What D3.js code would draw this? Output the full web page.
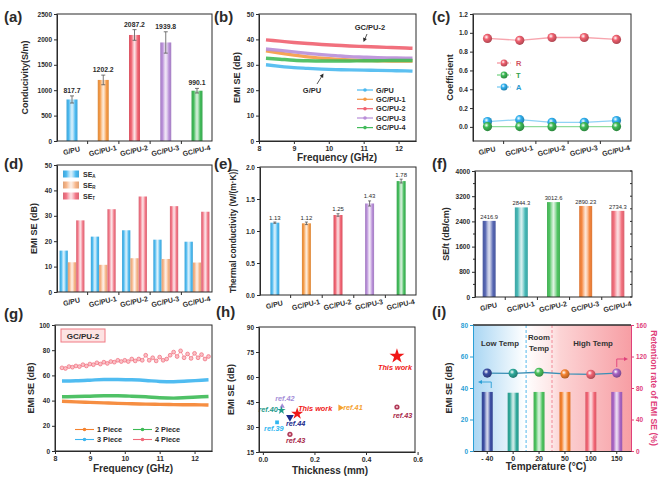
<!DOCTYPE html>
<html><head><meta charset="utf-8">
<script src="https://cdn.jsdelivr.net/npm/d3@7"></script>
<style>body{margin:0;background:#fff;} svg{display:block;}</style>
</head><body>
<svg id="c" width="669" height="484"></svg>
<script>
// ---------------- DATA ----------------
const catsGC = ["G/PU","GC/PU-1","GC/PU-2","GC/PU-3","GC/PU-4"];
// (a)
const conductivity = [817.7,1202.2,2087.2,1939.8,990.1];
const conductivityErr = [70,95,105,210,45];
const condTicks = [0,500,1000,1500,2000,2500];
// (b)
const freqB = [8.2,8.6,9.0,9.4,9.8,10.2,10.6,11.0,11.4,11.8,12.2,12.4];
const seGPU  = [30.0,29.4,28.9,28.6,28.3,28.1,28.0,27.9,27.8,27.7,27.6,27.5];
const seGC1  = [35.5,34.6,33.8,33.1,32.6,32.2,31.9,31.7,31.6,31.5,31.5,31.5];
const seGC2  = [39.8,39.3,38.8,38.4,38.0,37.7,37.4,37.2,37.0,36.8,36.6,36.5];
const seGC3  = [36.2,35.7,35.1,34.5,34.0,33.6,33.2,33.0,32.8,32.7,32.6,32.6];
const seGC4  = [32.6,32.2,31.8,31.6,31.5,31.5,31.5,31.6,31.6,31.7,31.7,31.7];
const freqTicks = [8,9,10,11,12];
const seTicksB = [0,10,20,30,40,50];
// (c)
const coefR = [0.94,0.92,0.95,0.95,0.93];
const coefT = [0.003,0.003,0.002,0.002,0.003];
const coefA = [0.057,0.077,0.048,0.048,0.067];
const coefTicks = [0,0.2,0.4,0.6,0.8,1.0,1.2];
// (d)
const seA = [16.3,21.8,24.3,20.6,19.8];
const seR = [11.7,10.7,13.3,13.0,11.6];
const seT = [28.2,32.6,37.6,33.8,31.6];
// (e)
const thermal = [1.13,1.12,1.25,1.43,1.78];
const thermalErr = [0.01,0.02,0.02,0.04,0.03];
const thermalTicks = [0,0.5,1.0,1.5,2.0];
// (f)
const seThick = [2416.9,2844.3,3012.6,2890.23,2734.3];
const seThickLabels = ["2416.9","2844.3","3012.6","2890.23","2734.3"];
const seThickTicks = [0,800,1600,2400,3200,4000];
// (g)
const freqG = [8.2,8.6,9.0,9.4,9.8,10.2,10.6,11.0,11.4,11.8,12.2,12.4];
const piece1 = [39.5,39.0,38.6,38.2,37.8,37.5,37.2,37.0,36.8,36.7,36.6,36.5];
const piece2 = [43.0,43.2,43.5,43.8,43.8,43.5,43.0,42.3,42.0,42.5,43.0,43.3];
const piece3 = [55.5,55.7,56.2,56.8,56.8,56.5,56.0,55.2,55.0,55.5,56.2,56.5];
const freqG4 = [8.2,8.3,8.4,8.5,8.6,8.7,8.8,8.9,9.0,9.1,9.2,9.3,9.4,9.5,9.6,9.7,9.8,9.9,10.0,10.1,10.2,10.3,10.4,10.5,10.6,10.7,10.8,10.9,11.0,11.1,11.2,11.3,11.4,11.5,11.6,11.7,11.8,11.9,12.0,12.1,12.2,12.3,12.4];
const piece4 = [66,65.5,67,66.5,67.5,67,68.5,67.5,69,68.5,70,69,70.5,69.5,71,70.5,72,71,72,71,73,71.5,73,72,76,72,74,71.5,74.5,72,73,76,78.5,75,79.5,74,77,73.5,77.5,74,76.5,73,75];
const seTicksG = [0,20,40,60,80,100];
// (h)
const refLabels = ["This work","This work","ref.43","ref.41","ref.42","ref.40","ref.44","ref.39","ref.43"];
const refThick  = [0.52,0.133,0.52,0.30,0.075,0.072,0.105,0.055,0.105];
const refSE     = [72.5,38,42,41.6,42.5,40,35.8,32.8,25.6];
const thickTicks = [0,0.2,0.4,0.6];
const seTicksH = [15,30,45,60,75,90];
// (i)
const temps = ["- 40","0","20","50","100","150"];
const tempSE = [37.5,37,37.5,37.5,37.5,37.5];
const retention = [98.9,98.6,100,97.9,97.3,99];
const seTicksI = [0,20,40,60,80];
const retTicks = [0,40,80,120,160];

// ---------------- HELPERS ----------------
const svg = d3.select("#c");
const defs = svg.append("defs");
const FONT = '"Liberation Sans", Arial, Helvetica, sans-serif';
const DARK = "#2b2b2b";
let gid = 0;
function barGrad(color){
  const id = "bg"+(gid++);
  const g = defs.append("linearGradient").attr("id",id).attr("x1","0%").attr("x2","100%").attr("y1","0%").attr("y2","0%");
  const c = d3.color(color);
  const light = d3.interpolateRgb(color,"#ffffff");
  [[0,c.darker(0.3)],[0.2,color],[0.38,light(0.55)],[0.5,light(0.8)],[0.62,light(0.55)],[0.8,color],[1,c.darker(0.3)]]
    .forEach(([o,col])=>g.append("stop").attr("offset",o).attr("stop-color",col));
  return `url(#${id})`;
}
function sphereGrad(color){
  const id = "sg"+(gid++);
  const g = defs.append("radialGradient").attr("id",id).attr("cx","38%").attr("cy","35%").attr("r","65%");
  g.append("stop").attr("offset",0).attr("stop-color","#ffffff");
  g.append("stop").attr("offset",0.4).attr("stop-color",color);
  g.append("stop").attr("offset",1).attr("stop-color",d3.color(color).darker(0.9));
  return `url(#${id})`;
}
function styleAxis(g, color, fs){
  g.selectAll("path.domain").attr("stroke",DARK).attr("stroke-width",1);
  g.selectAll(".tick line").attr("stroke",DARK);
  g.selectAll(".tick text").attr("font-family",FONT).attr("font-size",fs||6.5).attr("font-weight","bold").attr("fill",color||DARK);
}
function leftAxis(y, x, ticks, fmt, color){
  const g = svg.append("g").attr("transform",`translate(${x},0)`)
    .call(d3.axisLeft(y).tickValues(ticks).tickFormat(fmt).tickSize(3).tickSizeOuter(0).tickPadding(2));
  styleAxis(g,color); return g;
}
function rightAxis(y, x, ticks, fmt, color){
  const g = svg.append("g").attr("transform",`translate(${x},0)`)
    .call(d3.axisRight(y).tickValues(ticks).tickFormat(fmt).tickSize(3).tickSizeOuter(0).tickPadding(2));
  styleAxis(g,color); return g;
}
function bottomAxis(x, y, ticks, fmt, fs){
  const g = svg.append("g").attr("transform",`translate(0,${y})`)
    .call(d3.axisBottom(x).tickValues(ticks).tickFormat(fmt).tickSize(3).tickSizeOuter(0).tickPadding(2));
  styleAxis(g,DARK,fs||7); return g;
}
function frame(x0,y0,x1,y1){
  svg.append("rect").attr("x",x0).attr("y",y0).attr("width",x1-x0).attr("height",y1-y0)
    .attr("fill","none").attr("stroke",DARK).attr("stroke-width",1);
}
function catLabels(x, cats, yb, fs){
  const step = x.step();
  cats.forEach((c,i)=>{
    if(i>0) svg.append("line").attr("x1",x(c)-step/2).attr("x2",x(c)-step/2).attr("y1",yb).attr("y2",yb+3).attr("stroke",DARK);
  });
  svg.append("g").selectAll("text").data(cats).enter().append("text")
    .attr("transform",d=>`translate(${x(d)},${yb+12}) rotate(-13)`)
    .attr("text-anchor","middle").attr("font-family",FONT).attr("font-size",fs||7).attr("font-weight","bold")
    .attr("fill",DARK).text(d=>d);
}
function text(t,x,y,opt){
  opt = opt||{};
  const el = svg.append("text").attr("x",x).attr("y",y).attr("font-family",FONT)
    .attr("font-size",opt.fs||9).attr("font-weight",opt.fw||"bold").attr("fill",opt.fill||DARK)
    .attr("text-anchor",opt.anchor||"start");
  if(opt.italic) el.attr("font-style","italic");
  el.text(t); return el;
}
function vTitle(t,x,y,opt){
  opt = opt||{};
  return svg.append("text").attr("transform",`translate(${x},${y}) rotate(${opt.rot||-90})`)
    .attr("text-anchor","middle").attr("font-family",FONT).attr("font-size",opt.fs||9)
    .attr("font-weight","bold").attr("fill",opt.fill||DARK).text(t);
}
function errBar(xc, yTop, yBot, cap){
  const g = svg.append("g").attr("stroke","#555").attr("stroke-width",0.8);
  g.append("line").attr("x1",xc).attr("x2",xc).attr("y1",yTop).attr("y2",yBot);
  g.append("line").attr("x1",xc-cap).attr("x2",xc+cap).attr("y1",yTop).attr("y2",yTop);
  g.append("line").attr("x1",xc-cap).attr("x2",xc+cap).attr("y1",yBot).attr("y2",yBot);
}
function arrowHead(x,y,dir,color){
  svg.append("path").attr("d","M0,0 L-4,-2 L-4,2 Z").attr("fill",color)
    .attr("transform",`translate(${x},${y}) rotate(${dir})`);
}
const colGC = ["#4ab9f0","#f59a45","#f0606f","#b88ed8","#42bb5a"];
const fmt1 = d3.format(".1f");
const fmt0 = d=>String(d);

// panel letters
[["(a)",4,22],["(b)",214,22],["(c)",432,22],["(d)",4,169],["(e)",214,169],["(f)",432,169],["(g)",4,319],["(h)",216,317],["(i)",432,317]]
  .forEach(([t,x,y])=>text(t,x,y,{fs:15}));

// ---------------- (a) ----------------
{
  const L=57,R=212,T=14,B=141;
  const x = d3.scalePoint().domain(catsGC).range([L,R]).padding(0.48);
  const y = d3.scaleLinear().domain([0,2500]).range([B,T]);
  catsGC.forEach((c,i)=>{
    const v = conductivity[i];
    svg.append("rect").attr("x",x(c)-5.5).attr("width",11).attr("y",y(v)).attr("height",B-y(v)).attr("fill",barGrad(colGC[i]));
    errBar(x(c), y(v+conductivityErr[i]), y(v-conductivityErr[i]), 2);
    text(String(v), x(c), y(v+conductivityErr[i])-3, {fs:6.8, anchor:"middle"});
  });
  frame(L,T,R,B);
  leftAxis(y,L,condTicks,fmt0);
  catLabels(x,catsGC,B,7);
  vTitle("Conducivity(S/m)",28,(T+B)/2,{fs:9});
}

// ---------------- (b) ----------------
{
  const L=259,R=416,T=14,B=141;
  const x = d3.scaleLinear().domain([8,12.5]).range([L,R]);
  const y = d3.scaleLinear().domain([0,50]).range([B,T]);
  const series = [["G/PU",seGPU],["GC/PU-1",seGC1],["GC/PU-2",seGC2],["GC/PU-3",seGC3],["GC/PU-4",seGC4]];
  const line = d3.line().x((d,i)=>x(freqB[i])).y(d=>y(d)).curve(d3.curveMonotoneX);
  series.forEach(([n,vals],i)=>{
    svg.append("path").attr("d",line(vals)).attr("fill","none").attr("stroke",colGC[i]).attr("stroke-width",3.4).attr("stroke-opacity",0.9);
  });
  frame(L,T,R,B);
  leftAxis(y,L,seTicksB,fmt0);
  bottomAxis(x,B,freqTicks,fmt0);
  text("GC/PU-2",370,30,{fs:7.5,anchor:"middle"});
  svg.append("line").attr("x1",367).attr("y1",34).attr("x2",364.5).attr("y2",40).attr("stroke",DARK).attr("stroke-width",0.8);
  arrowHead(363.5,42,112,DARK);
  text("G/PU",312,93,{fs:7.5,anchor:"middle"});
  svg.append("line").attr("x1",317).attr("y1",84).attr("x2",322).attr("y2",76).attr("stroke",DARK).attr("stroke-width",0.8);
  arrowHead(323.5,73.5,-58,DARK);
  const ly=[90,99.3,108.7,118,127.6];
  series.forEach(([n],i)=>{
    svg.append("line").attr("x1",357).attr("x2",373).attr("y1",ly[i]).attr("y2",ly[i]).attr("stroke",colGC[i]).attr("stroke-width",1.2);
    svg.append("circle").attr("cx",365).attr("cy",ly[i]).attr("r",1.8).attr("fill",colGC[i]);
    text(n,376,ly[i]+2.6,{fs:7.3});
  });
  vTitle("EMI SE (dB)",240,(T+B)/2,{fs:9});
  text("Frequency (GHz)",337,161,{fs:10,anchor:"middle"});
}

// ---------------- (c) ----------------
{
  const L=473,R=631,T=14,B=141;
  const x = d3.scalePoint().domain(catsGC).range([L,R]).padding(0.45);
  const y = d3.scaleLinear().domain([-0.15,1.2]).range([B,T]);
  const sers = [["R",coefR,"#f0606f","#f7a5ae"],["T",coefT,"#3cba55","#8fdc9b"],["A",coefA,"#2fb0ef","#8fd3f5"]];
  const line = d3.line().x((d,i)=>x(catsGC[i])).y(d=>y(d));
  sers.forEach(([n,vals,c,lc])=>{
    svg.append("path").attr("d",line(vals)).attr("fill","none").attr("stroke",lc).attr("stroke-width",1.3);
  });
  sers.slice().reverse().forEach(([n,vals,c])=>{
    const f = sphereGrad(c);
    vals.forEach((v,i)=>svg.append("circle").attr("cx",x(catsGC[i])).attr("cy",y(v)).attr("r",4.6).attr("fill",f));
  });
  frame(L,T,R,B);
  leftAxis(y,L,coefTicks,fmt1);
  catLabels(x,catsGC,B,7);
  const ly=[63,75,87];
  sers.forEach(([n,vals,c,lc],i)=>{
    svg.append("line").attr("x1",497).attr("x2",511).attr("y1",ly[i]).attr("y2",ly[i]).attr("stroke",lc).attr("stroke-width",1.3).attr("stroke-dasharray","3,1.5");
    svg.append("circle").attr("cx",504).attr("cy",ly[i]).attr("r",3.5).attr("fill",sphereGrad(c));
    text(n,516,ly[i]+2.8,{fs:7.5,fill:d3.color(c).darker(0.4)});
  });
  vTitle("Coefficient",453,(T+B)/2,{fs:9});
}

// ---------------- (d) ----------------
{
  const L=57,R=212,T=165,B=292;
  const x = d3.scalePoint().domain(catsGC).range([L,R]).padding(0.48);
  const y = d3.scaleLinear().domain([0,50]).range([B,T]);
  const sers = [[seA,"#4ab9f0"],[seR,"#f7b486"],[seT,"#f27484"]];
  const bw = 8.3;
  sers.forEach(([vals,c],k)=>{
    const f = barGrad(c);
    vals.forEach((v,i)=>{
      svg.append("rect").attr("x",x(catsGC[i])+(k-1.5)*bw).attr("width",bw).attr("y",y(v)).attr("height",B-y(v)).attr("fill",f);
    });
  });
  frame(L,T,R,B);
  leftAxis(y,L,[0,10,20,30,40,50],fmt0);
  catLabels(x,catsGC,B,7);
  const ly=[174,185,196], subs=["A","R","T"];
  sers.forEach(([v,c],i)=>{
    svg.append("rect").attr("x",63).attr("y",ly[i]-3.5).attr("width",16).attr("height",7).attr("fill",barGrad(c));
    const t = text("SE",83,ly[i]+2.5,{fs:7});
    t.append("tspan").attr("font-size",4.5).attr("dy",1.5).text(subs[i]);
  });
  vTitle("EMI SE (dB)",37,(T+B)/2,{fs:9});
}

// ---------------- (e) ----------------
{
  const L=260,R=416,T=167,B=295;
  const x = d3.scalePoint().domain(catsGC).range([L,R]).padding(0.47);
  const y = d3.scaleLinear().domain([0,2]).range([B,T]);
  catsGC.forEach((c,i)=>{
    const v = thermal[i];
    svg.append("rect").attr("x",x(c)-4.5).attr("width",9).attr("y",y(v)).attr("height",B-y(v)).attr("fill",barGrad(colGC[i]));
    errBar(x(c), y(v+thermalErr[i]), y(v-thermalErr[i]), 1.5);
    text(v.toFixed(2), x(c), y(v+thermalErr[i])-2.5, {fs:6, fw:"normal", anchor:"middle"});
  });
  frame(L,T,R,B);
  leftAxis(y,L,thermalTicks,fmt1);
  catLabels(x,catsGC,B,7);
  vTitle("Thermal conductivity (W/(m·K))",236,(T+B)/2,{fs:8.4});
}

// ---------------- (f) ----------------
{
  const L=475,R=632,T=171,B=297;
  const x = d3.scalePoint().domain(catsGC).range([L,R]).padding(0.44);
  const y = d3.scaleLinear().domain([0,4000]).range([B,T]);
  const colF = ["#5565b2","#45b7b5","#50c462","#f5863e","#f26e7c"];
  catsGC.forEach((c,i)=>{
    const v = seThick[i];
    svg.append("rect").attr("x",x(c)-6.5).attr("width",13).attr("y",y(v)).attr("height",B-y(v)).attr("fill",barGrad(colF[i]));
    text(seThickLabels[i], x(c), y(v)-2, {fs:5.8, fw:"normal", anchor:"middle"});
  });
  frame(L,T,R,B);
  leftAxis(y,L,seThickTicks,fmt0);
  d3.range(400,4000,800).forEach(v=>{
    svg.append("line").attr("x1",L).attr("x2",L-2).attr("y1",y(v)).attr("y2",y(v)).attr("stroke",DARK);
  });
  d3.range(0,4001,400).forEach(v=>{
    svg.append("line").attr("x1",R).attr("x2",R-2).attr("y1",y(v)).attr("y2",y(v)).attr("stroke",DARK);
  });
  catLabels(x,catsGC,B,7);
  vTitle("SE/t (dB/cm)",449,(T+B)/2,{fs:9});
}

// ---------------- (g) ----------------
{
  const L=55,R=212,T=325,B=451;
  const x = d3.scaleLinear().domain([8,12.5]).range([L,R]);
  const y = d3.scaleLinear().domain([0,100]).range([B,T]);
  const line = d3.line().x((d,i)=>x(freqG[i])).y(d=>y(d)).curve(d3.curveMonotoneX);
  const sers = [["1 Piece",piece1,"#f5822e"],["2 Piece",piece2,"#3cba55"],["3 Piece",piece3,"#3db5f0"]];
  sers.forEach(([n,v,c])=>{
    svg.append("path").attr("d",line(v)).attr("fill","none").attr("stroke",c).attr("stroke-width",3.4).attr("stroke-opacity",0.9);
  });
  const line4 = d3.line().x((d,i)=>x(freqG4[i])).y(d=>y(d));
  svg.append("path").attr("d",line4(piece4)).attr("fill","none").attr("stroke","#f58a96").attr("stroke-width",0.8);
  piece4.forEach((v,i)=>{
    svg.append("circle").attr("cx",x(freqG4[i])).attr("cy",y(v)).attr("r",1.9).attr("fill","#f9c0c6").attr("stroke","#f06a7a").attr("stroke-width",0.7);
  });
  frame(L,T,R,B);
  leftAxis(y,L,seTicksG,fmt0);
  bottomAxis(x,B,freqTicks,fmt0);
  svg.append("rect").attr("x",61).attr("y",329).attr("width",44).attr("height",13).attr("fill","#fde3e3").attr("stroke","#f07a84").attr("stroke-width",1);
  text("GC/PU-2",83,338.8,{fs:8,anchor:"middle"});
  const leg = [["1 Piece","#f5822e",75,429.5],["2 Piece","#3cba55",133,429.5],["3 Piece","#3db5f0",75,439.5],["4 Piece","#f06a7a",133,439.5]];
  leg.forEach(([n,c,lx,ly])=>{
    svg.append("line").attr("x1",lx).attr("x2",lx+19).attr("y1",ly).attr("y2",ly).attr("stroke",c).attr("stroke-width",1.1);
    svg.append("circle").attr("cx",lx+9.5).attr("cy",ly).attr("r",1.8).attr("fill",c);
    text(n,lx+22,ly+2.6,{fs:7.3});
  });
  vTitle("EMI SE (dB)",34,(T+B)/2,{fs:9});
  text("Frequency (GHz)",133,472,{fs:10,anchor:"middle"});
}

// ---------------- (h) ----------------
{
  const L=259,R=415,T=327,B=452;
  const x = d3.scaleLinear().domain([-0.015,0.59]).range([L,R]);
  const y = d3.scaleLinear().domain([15,90]).range([B,T]);
  const style = [
    {sym:d3.symbolStar,size:70,c:"#f01818",dx:-19,dy:14},
    {sym:d3.symbolStar,size:45,c:"#f01818",dx:1,dy:-3},
    {sym:"ring",size:0,c:"#a8284a",dx:-4,dy:11},
    {sym:d3.symbolTriangle,rot:90,size:18,c:"#f5a030",dx:3,dy:2.5},
    {sym:d3.symbolTriangle,size:12,c:"#a58ed8",dx:-7,dy:-5},
    {sym:d3.symbolStar,size:22,c:"#1f9a8a",dx:-23,dy:2},
    {sym:d3.symbolTriangle,rot:180,size:26,c:"#1a2a8c",dx:-4,dy:9},
    {sym:d3.symbolSquare,size:14,c:"#30b6f0",dx:-13,dy:9},
    {sym:"ring",size:0,c:"#a8284a",dx:-4,dy:9}
  ];
  refLabels.forEach((lab,i)=>{
    const s = style[i], px = x(refThick[i]), py = y(refSE[i]);
    if(s.sym==="ring"){
      svg.append("circle").attr("cx",px).attr("cy",py).attr("r",2.6).attr("fill","#b03a58");
      svg.append("circle").attr("cx",px).attr("cy",py).attr("r",1.1).attr("fill","#f3c2cc");
    } else {
      svg.append("path").attr("d",d3.symbol().type(s.sym).size(s.size)())
        .attr("transform",`translate(${px},${py}) rotate(${s.rot||0})`).attr("fill",s.c);
    }
    text(lab, px+s.dx, py+s.dy, {fs:7.3, italic:true, fill:s.c});
  });
  frame(L,T,R,B);
  leftAxis(y,L,seTicksH,fmt0);
  bottomAxis(x,B,thickTicks,fmt1);
  vTitle("EMI SE (dB)",234,(T+B)/2,{fs:9});
  text("Thickness (mm)",330,474,{fs:10,anchor:"middle"});
}

// ---------------- (i) ----------------
{
  const L=473,R=631,T=325,B=451;
  const x = d3.scaleBand().domain(temps).range([L,R]).paddingOuter(0.05).paddingInner(0);
  const xc = d=>x(d)+x.bandwidth()/2;
  const y = d3.scaleLinear().domain([0,80]).range([B,T]);
  const y2 = d3.scaleLinear().domain([0,160]).range([B,T]);
  const bgid = "bgI";
  const bg = defs.append("linearGradient").attr("id",bgid).attr("x1","0%").attr("x2","100%");
  [[0,"#a9d6f3"],[0.33,"#ffffff"],[0.5,"#fde6e6"],[0.55,"#fcd4d5"],[1,"#f79ea4"]].forEach(([o,c])=>bg.append("stop").attr("offset",o).attr("stop-color",c));
  svg.append("rect").attr("x",L).attr("y",T).attr("width",R-L).attr("height",B-T).attr("fill",`url(#${bgid})`);
  const d1 = (xc(temps[1])+xc(temps[2]))/2, d2 = (xc(temps[2])+xc(temps[3]))/2;
  svg.append("line").attr("x1",d1).attr("x2",d1).attr("y1",T).attr("y2",B).attr("stroke","#3fb0ea").attr("stroke-width",0.9).attr("stroke-dasharray","3,2");
  svg.append("line").attr("x1",d2).attr("x2",d2).attr("y1",T).attr("y2",B).attr("stroke","#f08090").attr("stroke-width",0.9).attr("stroke-dasharray","3,2");
  const colI = ["#3b4ea3","#2fa99b","#4cc25e","#f5822e","#f26474","#a864c4"];
  temps.forEach((t,i)=>{
    const v = tempSE[i];
    svg.append("rect").attr("x",xc(t)-5.5).attr("width",11).attr("y",y(v)).attr("height",B-y(v)).attr("fill",barGrad(colI[i]));
  });
  const line = d3.line().x((d,i)=>xc(temps[i])).y(d=>y2(d));
  svg.append("path").attr("d",line(retention)).attr("fill","none").attr("stroke","#3a8fb5").attr("stroke-width",1.3);
  temps.forEach((t,i)=>{
    svg.append("circle").attr("cx",xc(t)).attr("cy",y2(retention[i])).attr("r",4.6).attr("fill",sphereGrad(colI[i]));
  });
  svg.append("line").attr("x1",L).attr("x2",R).attr("y1",T).attr("y2",T).attr("stroke",DARK).attr("stroke-width",1.3);
  const gl = leftAxis(y,L,seTicksI,fmt0,"#2a9fd6");
  gl.selectAll("path.domain,.tick line").attr("stroke","#2a9fd6");
  const gr = rightAxis(y2,R,retTicks,fmt0,"#e0407a");
  gr.selectAll("path.domain,.tick line").attr("stroke","#e0407a");
  const gb = svg.append("g").attr("transform",`translate(0,${B})`).call(d3.axisBottom(x).tickSize(3).tickSizeOuter(0).tickPadding(2));
  styleAxis(gb,DARK,7);
  const a1x = xc(temps[0])+4;
  svg.append("path").attr("d",`M${a1x},388 L${a1x},382 L${L+7},382`).attr("fill","none").attr("stroke","#2a9fd6").attr("stroke-width",0.9);
  arrowHead(L+5,382,180,"#2a9fd6");
  const a2x = xc(temps[5]);
  svg.append("path").attr("d",`M${a2x},367 L${a2x},359 L${R-5},359`).attr("fill","none").attr("stroke","#e0407a").attr("stroke-width",0.9);
  arrowHead(R-3,359,0,"#e0407a");
  text("Low Temp",500,346,{fs:7.8,anchor:"middle",fill:"#333"});
  text("Room",539,340,{fs:7.8,anchor:"middle",fill:"#333"});
  text("Temp",539,351,{fs:7.8,anchor:"middle",fill:"#333"});
  text("High Temp",593,346,{fs:7.8,anchor:"middle",fill:"#333"});
  vTitle("EMI SE (dB)",452,(T+B)/2,{fs:9});
  vTitle("Retention rate of EMI SE (%)",651,(T+B)/2,{fs:8.6,rot:90,fill:"#e0407a"});
  text("Temperature (°C)",546,470,{fs:10,anchor:"middle"});
}
</script>
</body></html>
